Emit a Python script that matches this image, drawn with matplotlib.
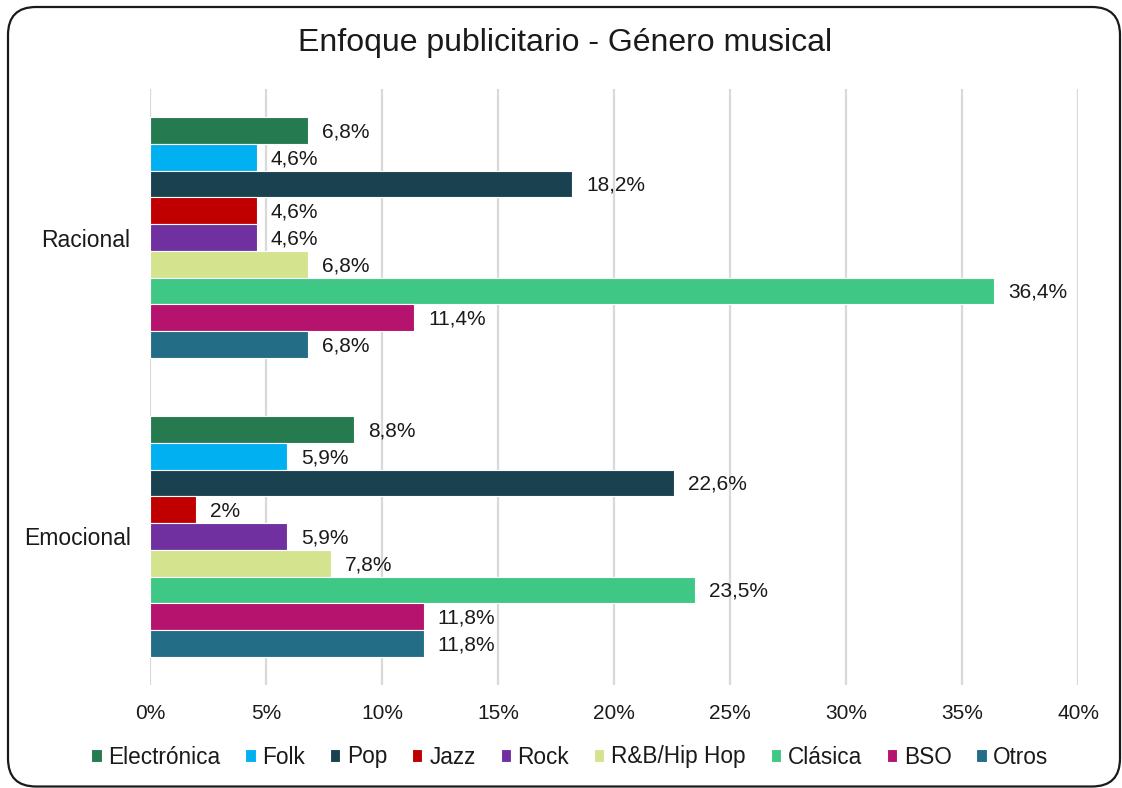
import matplotlib
matplotlib.use('Agg')
import matplotlib.pyplot as plt
import numpy as np
from matplotlib.patches import FancyBboxPatch
from matplotlib.transforms import IdentityTransform

plt.rcParams['font.family'] = ['Liberation Sans', 'DejaVu Sans']

categories = ['Racional', 'Emocional']
genres = ['Electrónica', 'Folk', 'Pop', 'Jazz', 'Rock', 'R&B/Hip Hop',
          'Clásica', 'BSO', 'Otros']
racional = [6.8, 4.6, 18.2, 4.6, 4.6, 6.8, 36.4, 11.4, 6.8]
emocional = [8.8, 5.9, 22.6, 2.0, 5.9, 7.8, 23.5, 11.8, 11.8]
x_ticks = [0, 5, 10, 15, 20, 25, 30, 35, 40]

colors = ['#267A50', '#00B0F0', '#1A4150', '#C00000', '#7030A0',
          '#D4E38E', '#3EC785', '#B5136E', '#236D86']

values = np.array([racional, emocional])
n = len(genres)
group_w = 0.806
bar_h = group_w / n

fig = plt.figure(figsize=(11.22, 7.88), dpi=100)
ax = fig.add_axes([0.1337, 0.1307, 0.8271, 0.7564])

ypos = np.arange(len(categories))
for i, genre in enumerate(genres):
    offs = ypos - group_w / 2 + bar_h * (i + 0.5)
    bars = ax.barh(offs, values[:, i], height=bar_h, color=colors[i],
                   edgecolor='white', linewidth=0.8, label=genre, zorder=3)
    for b, v in zip(bars, values[:, i]):
        txt = f'{v:g}'.replace('.', ',') + '%'
        ax.annotate(txt, (b.get_width(), b.get_y() + b.get_height() / 2),
                    xytext=(10, -1), textcoords='offset points',
                    ha='left', va='center', fontsize=15, color='#1a1a1a')

ax.set_xlim(0, 40)
ax.set_ylim(1.497, -0.497)
ax.set_xticks(x_ticks)
ax.set_xticklabels([f'{t}%' for t in x_ticks], fontsize=15, color='#1a1a1a')
ax.set_yticks(ypos)
ax.set_yticklabels(categories, fontsize=16.5, color='#1a1a1a')
ax.tick_params(axis='x', length=0, pad=14)
ax.tick_params(axis='y', length=0, pad=14)
for s in ax.spines.values():
    s.set_visible(False)
ax.grid(axis='x', color='#d9d9d9', linewidth=1.6, zorder=0)
ax.set_axisbelow(True)

fig.text(0.504, 0.945, 'Enfoque publicitario - Género musical',
         ha='center', va='center', fontsize=23, color='#1a1a1a')

fig.legend(loc='center', bbox_to_anchor=(0.508, 1 - 757 / 788), ncol=n,
           frameon=False, fontsize=16.3, handlelength=0.45, handleheight=0.45,
           handletextpad=0.3, columnspacing=1.1, labelcolor='#1a1a1a')

border = FancyBboxPatch((8, 1.5), 1112, 779.5,
                        boxstyle='round,pad=0,rounding_size=28',
                        transform=IdentityTransform(), fill=False,
                        edgecolor='#1a1a1a', linewidth=1.6)
fig.patches.append(border)

fig.savefig('out.png', dpi=100)
